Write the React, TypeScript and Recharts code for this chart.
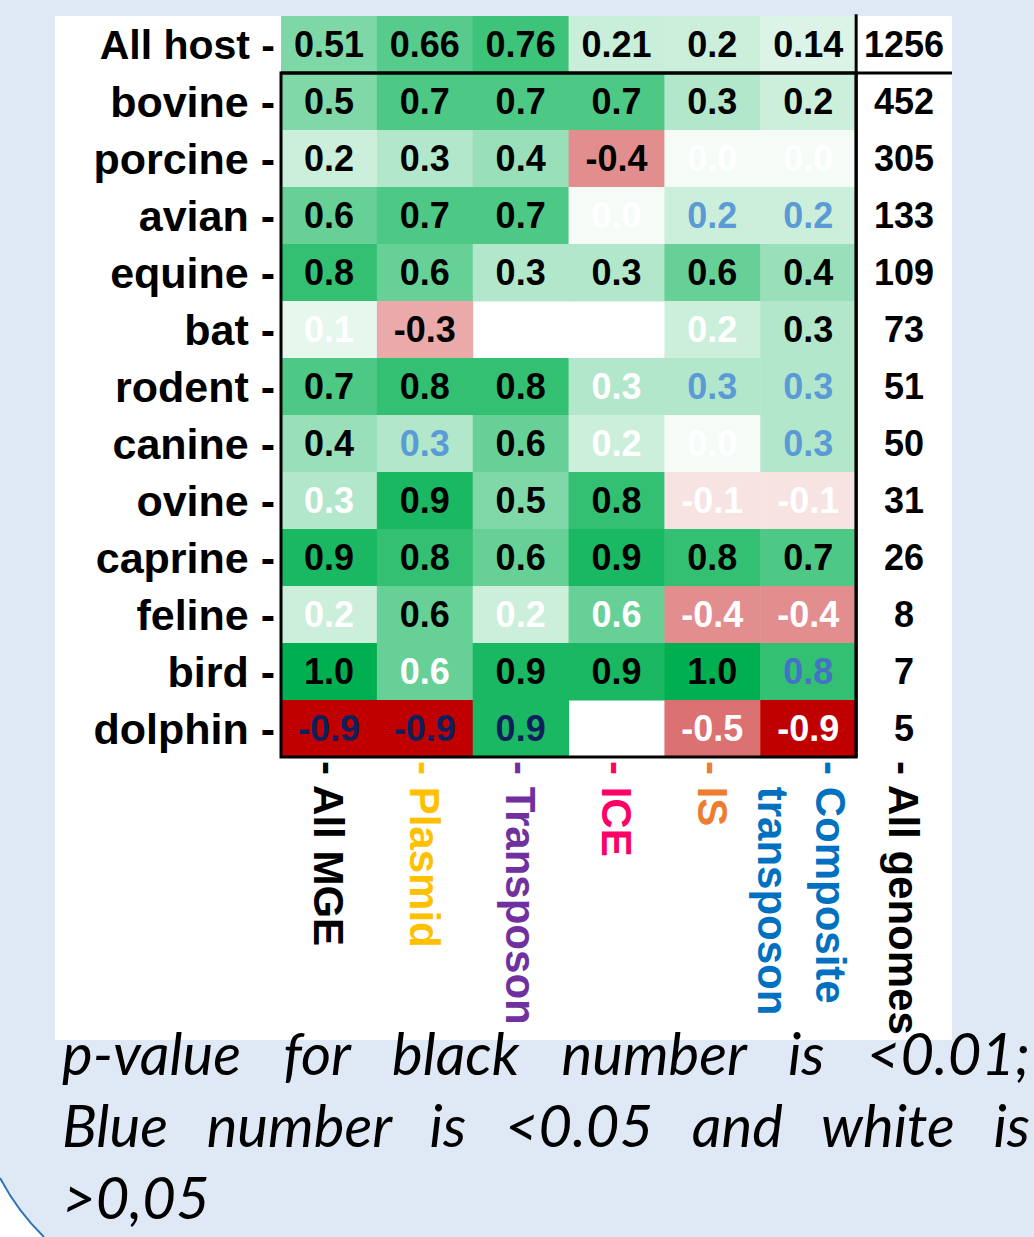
import React from 'react';
import { ScatterChart, Scatter, XAxis, YAxis, ReferenceArea, ReferenceLine } from 'recharts';

// ---------- data ----------
const hosts = ['All host', 'bovine', 'porcine', 'avian', 'equine', 'bat', 'rodent', 'canine', 'ovine', 'caprine', 'feline', 'bird', 'dolphin'];
const mgeTypes = ['All MGE', 'Plasmid', 'Transposon', 'ICE', 'IS', 'Composite transposon', 'All genomes'];

const correlation: (number | null)[][] = [
  [0.51, 0.66, 0.76, 0.21, 0.2, 0.14],
  [0.5, 0.7, 0.7, 0.7, 0.3, 0.2],
  [0.2, 0.3, 0.4, -0.4, 0.0, 0.0],
  [0.6, 0.7, 0.7, 0.0, 0.2, 0.2],
  [0.8, 0.6, 0.3, 0.3, 0.6, 0.4],
  [0.1, -0.3, null, null, 0.2, 0.3],
  [0.7, 0.8, 0.8, 0.3, 0.3, 0.3],
  [0.4, 0.3, 0.6, 0.2, 0.0, 0.3],
  [0.3, 0.9, 0.5, 0.8, -0.1, -0.1],
  [0.9, 0.8, 0.6, 0.9, 0.8, 0.7],
  [0.2, 0.6, 0.2, 0.6, -0.4, -0.4],
  [1.0, 0.6, 0.9, 0.9, 1.0, 0.8],
  [-0.9, -0.9, 0.9, null, -0.5, -0.9],
];

// k = p<0.01 (black), b/B/n = p<0.05 (blue shades), w = p>0.05 (white), - = no value
const significance = [
  'kkkkkk',
  'kkkkkk',
  'kkkkww',
  'kkkwbb',
  'kkkkkk',
  'wk--wk',
  'kkkwbb',
  'kbkwwb',
  'wkkkww',
  'kkkkkk',
  'wkwwww',
  'kwkkkB',
  'nnn-ww',
];

const genomeCounts = [1256, 452, 305, 133, 109, 73, 51, 50, 31, 26, 8, 7, 5];

// ---------- styling ----------
const sigColors: Record<string, string> = { k: '#000000', b: '#5b9bd5', B: '#4472c4', n: '#0d1f5c', w: '#ffffff' };
const labelColors = ['#000000', '#ffc000', '#7030a0', '#ff0066', '#ed7d31', '#0070c0', '#000000'];

const CHART_W = 1034;
const CHART_H = 1040;
const MARGIN = { top: 16, right: 82, bottom: 0, left: 0 };
const Y_AXIS_W = 281;
const X_AXIS_H = 283;
const PLOT_W = CHART_W - MARGIN.left - MARGIN.right - Y_AXIS_W;
const PLOT_H = CHART_H - MARGIN.top - MARGIN.bottom - X_AXIS_H;
const CELL_W = PLOT_W / mgeTypes.length;
const CELL_H = PLOT_H / hosts.length;

const FONT = '"Liberation Sans", Arial, sans-serif';

function mix(a: number[], b: number[], t: number) {
  const c = a.map((av, i) => Math.round(av + (b[i] - av) * t));
  return `rgb(${c[0]},${c[1]},${c[2]})`;
}
function cellColor(v: number) {
  const white = [255, 255, 255];
  if (v >= 0) return mix(white, [0, 176, 80], Math.max(0.04, Math.min(1, v)));
  return mix(white, [192, 0, 0], Math.min(1, -v / 0.9));
}

type Pt = { x: number; y: number; v: number | null; label: string; sig: string; plain: boolean };

const points: Pt[] = [];
correlation.forEach((row, r) => {
  row.forEach((v, c) => {
    if (v === null) return;
    points.push({
      x: c,
      y: r,
      v,
      label: r === 0 ? String(v) : v.toFixed(1),
      sig: significance[r][c],
      plain: false,
    });
  });
  points.push({ x: mgeTypes.length - 1, y: r, v: null, label: String(genomeCounts[r]), sig: 'k', plain: true });
});

const HeatCell = (props: any) => {
  const { cx, cy, payload } = props;
  if (cx == null || cy == null) return null;
  const p: Pt = payload;
  return (
    <g>
      {!p.plain && (
        <rect x={cx - CELL_W / 2} y={cy - CELL_H / 2} width={CELL_W + 0.5} height={CELL_H + 0.5} fill={cellColor(p.v as number)} />
      )}
      <text
        x={cx}
        y={cy}
        dy="0.36em"
        textAnchor="middle"
        fontFamily={FONT}
        fontWeight="bold"
        fontSize={36}
        fill={sigColors[p.sig]}
      >
        {p.label}
      </text>
    </g>
  );
};

const EmptyShape = () => <g />;

const YTick = (props: any) => {
  const { x, y, payload } = props;
  const i = payload.value as number;
  return (
    <text x={x} y={y} dy="0.36em" textAnchor="end" fontFamily={FONT} fontWeight="bold" fontSize={i === 0 ? 41 : 43} fill="#000">
      {hosts[i] + ' -'}
    </text>
  );
};

const XTick = (props: any) => {
  const { x, y, payload } = props;
  const i = payload.value as number;
  const name = mgeTypes[i];
  const color = labelColors[i];
  const common = { fontFamily: FONT, fontWeight: 'bold' as const, fontSize: 42, fill: color, textAnchor: 'start' as const };
  if (name === 'Composite transposon') {
    return (
      <g transform={`translate(${x},${y + 4})`}>
        <text transform="rotate(90)" x={0} y={-22} dy="0.35em" {...common}>- Composite</text>
        <text transform="rotate(90)" x={25.7} y={36} dy="0.35em" {...common}>transposon</text>
      </g>
    );
  }
  return (
    <g transform={`translate(${x},${y + 4})`}>
      <text transform="rotate(90)" x={0} y={0} dy="0.35em" {...common}>{'- ' + name}</text>
    </g>
  );
};

const NoTick = () => <g />;

const xTicks = mgeTypes.map((_, i) => i);
const yTicks = hosts.map((_, i) => i);
const xDomain: [number, number] = [-0.5, mgeTypes.length - 0.5];
const yDomain: [number, number] = [-0.5, hosts.length - 0.5];

function HeatmapChart() {
  return (
    <ScatterChart width={CHART_W} height={CHART_H} margin={MARGIN}>
      <XAxis
        type="number"
        dataKey="x"
        domain={xDomain}
        ticks={xTicks}
        interval={0}
        height={X_AXIS_H}
        axisLine={false}
        tickLine={false}
        tickSize={0}
        tickMargin={0}
        tick={<XTick />}
      />
      <YAxis
        type="number"
        dataKey="y"
        domain={yDomain}
        reversed
        ticks={yTicks}
        interval={0}
        width={Y_AXIS_W}
        axisLine={false}
        tickLine={false}
        tickSize={0}
        tickMargin={6}
        tick={<YTick />}
      />
      <Scatter data={points} shape={<HeatCell />} isAnimationActive={false} />
    </ScatterChart>
  );
}

// Border overlay: same geometry, invisible points, only the frame lines, drawn above the cells
function FrameChart() {
  return (
    <ScatterChart width={CHART_W} height={CHART_H} margin={MARGIN}>
      <XAxis
        type="number"
        dataKey="x"
        domain={xDomain}
        ticks={xTicks}
        interval={0}
        height={X_AXIS_H}
        axisLine={false}
        tickLine={false}
        tickSize={0}
        tick={<NoTick />}
      />
      <YAxis
        type="number"
        dataKey="y"
        domain={yDomain}
        reversed
        ticks={yTicks}
        interval={0}
        width={Y_AXIS_W}
        axisLine={false}
        tickLine={false}
        tickSize={0}
        tick={<NoTick />}
      />
      <Scatter data={points} shape={<EmptyShape />} isAnimationActive={false} />
      <ReferenceArea
        x1={-0.5}
        x2={5.5}
        y1={0.5}
        y2={12.5}
        fill="none"
        fillOpacity={0}
        stroke="#000"
        strokeWidth={3}
        ifOverflow="visible"
      />
      <ReferenceLine segment={[{ x: -0.5, y: 0.5 }, { x: 6.5, y: 0.5 }]} stroke="#000" strokeWidth={3} ifOverflow="visible" />
      <ReferenceLine segment={[{ x: 5.5, y: -0.53 }, { x: 5.5, y: 12.5 }]} stroke="#000" strokeWidth={3} ifOverflow="visible" />
    </ScatterChart>
  );
}

export default function App() {
  return (
    <div style={{ position: 'absolute', left: 0, top: 0, width: 1034, height: 1237, background: '#dfe9f5', overflow: 'hidden' }}>
      <svg width={1034} height={1237} style={{ position: 'absolute', left: 0, top: 0 }}>
        <path d="M 0 1178 Q 18 1212 44 1237 L 0 1237 Z" fill="#ffffff" />
        <path d="M 0 1178 Q 18 1212 44 1237" fill="none" stroke="#2e75b6" strokeWidth={2} />
      </svg>
      <div style={{ position: 'absolute', left: 55, top: 16, width: 897, height: 1024, background: '#ffffff' }} />
      <div style={{ position: 'absolute', left: 0, top: 0 }}>
        <HeatmapChart />
      </div>
      <div style={{ position: 'absolute', left: 0, top: 0, pointerEvents: 'none' }}>
        <FrameChart />
      </div>
      <div
        style={{
          position: 'absolute',
          left: 62,
          top: 1017,
          width: 968,
          fontFamily: 'Lato, "Open Sans", sans-serif',
          fontStyle: 'italic',
          fontSize: 58,
          lineHeight: '72px',
          color: '#000',
        }}
      >
        <div style={{ textAlign: 'justify', textAlignLast: 'justify', whiteSpace: 'nowrap' as const }}>p-value for black number is &lt;0.01;</div>
        <div style={{ textAlign: 'justify', textAlignLast: 'justify', whiteSpace: 'nowrap' as const }}>Blue number is &lt;0.05 and white is</div>
        <div>&gt;0,05</div>
      </div>
    </div>
  );
}
